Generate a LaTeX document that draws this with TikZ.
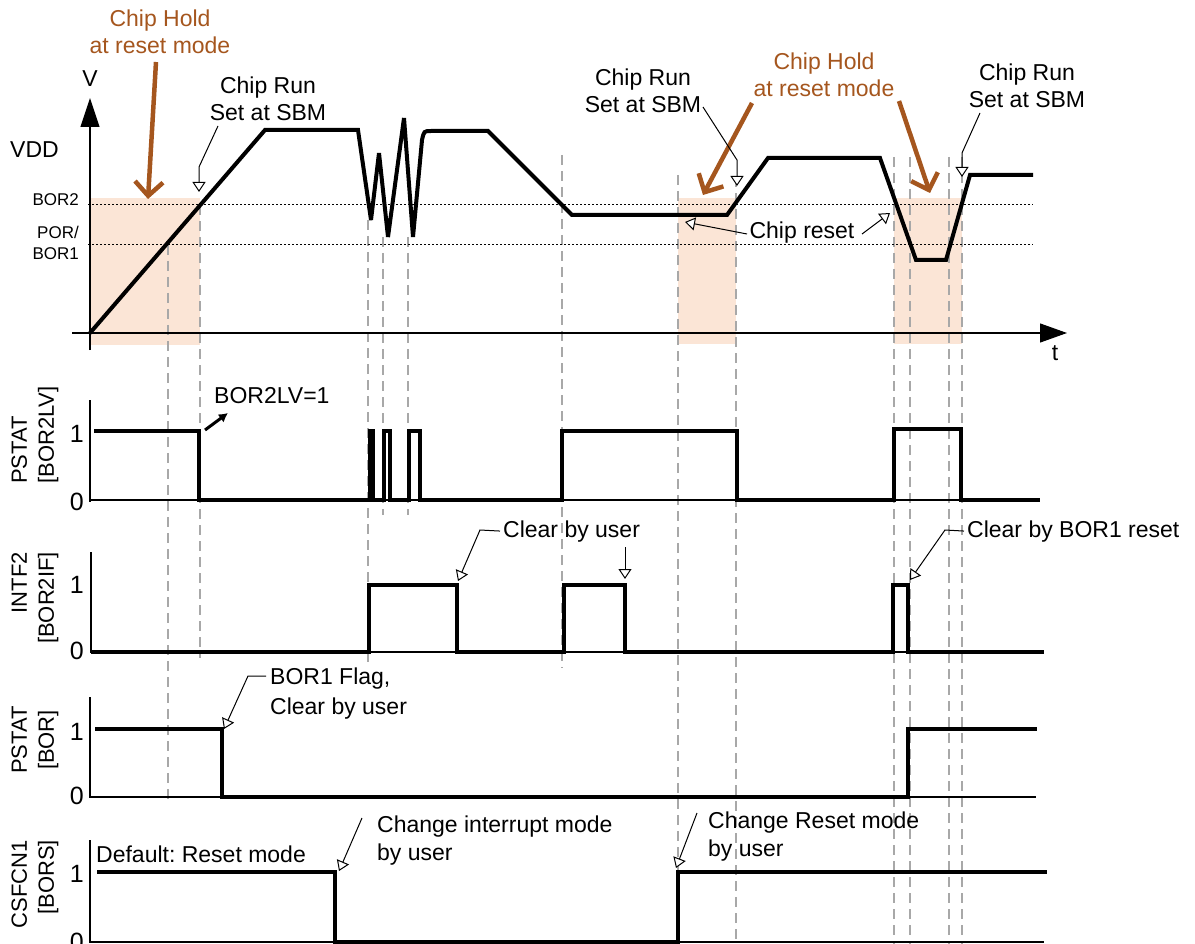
\documentclass[tikz,border=0pt]{standalone}
\usepackage{fontspec}
\setmainfont{Liberation Sans}
\usetikzlibrary{arrows.meta}
\definecolor{holdfill}{HTML}{FBE5D6}
\definecolor{brownc}{HTML}{A5561E}
\definecolor{dashg}{HTML}{A8A8A8}
\frenchspacing
\begin{document}
\begin{tikzpicture}[x=1pt,y=-1pt,
  sig/.style={line width=4pt, line join=miter, miter limit=2.5},
  ax/.style={line width=1.1pt},
  guide/.style={dashg, line width=1.3pt, dash pattern=on 10pt off 6pt},
  lvl/.style={line width=1pt, dash pattern=on 2pt off 2pt},
  call/.style={line width=1pt, -{Triangle[open,length=10pt,width=13pt,fill=white]}},
  hold/.style={brownc, line width=4.5pt, -{Straight Barb[length=14pt,width=28pt]}},
  lab/.style={inner sep=0pt, font=\fontsize{23}{27.5}\selectfont},
  small/.style={inner sep=0pt, font=\fontsize{17}{21}\selectfont},
  lvlab/.style={inner sep=0pt, font=\fontsize{25}{30}\selectfont},
  side/.style={inner sep=0pt, font=\fontsize{22}{27}\selectfont, rotate=90},
]
\useasboundingbox (0,0) rectangle (1195,944);

% shaded hold regions
\fill[holdfill] (90,198) rectangle (200,345);
\fill[holdfill] (678,198) rectangle (736,344);
\fill[holdfill] (894,198) rectangle (962,344);

% guide lines
\draw[guide] (168,245) -- (168,803);
\draw[guide] (200,205) -- (200,658);
\draw[guide] (368,220) -- (368,663);
\draw[guide] (383,237) -- (383,515);
\draw[guide] (408,237) -- (408,515);
\draw[guide] (562,155) -- (562,668);
\draw[guide] (678,175) -- (678,944);
\draw[guide] (736,177) -- (736,944);
\draw[guide] (894,157) -- (894,944);
\draw[guide] (910,157) -- (910,944);
\draw[guide] (949,157) -- (949,944);
\draw[guide] (962,157) -- (962,944);

% level lines
\draw[lvl] (88,205) -- (1033,205);
\draw[lvl] (88,245) -- (1033,245);

% top axes
\draw[ax, -{Triangle[length=29pt,width=19pt]}] (90,350) -- (90,98);
\draw[ax, -{Triangle[length=27pt,width=19pt]}] (72,333) -- (1067,333);

% VDD signal
\draw[sig] (90,333) -- (265,130) -- (358,130) -- (371,220) -- (379,153) -- (388,237)
  -- (404,118) -- (413,237) -- (422,140) .. controls (424,131) .. (431,131) -- (488,131)
  -- (572,215) -- (727,215) -- (768,158) -- (880,158) -- (916,260) -- (946,260)
  -- (970,175) -- (1033,175);

% panel axes and baselines
\draw[ax] (90,400) -- (90,502);
\draw[ax] (90,500) -- (1040,500);
\draw[ax] (91,552) -- (91,653);
\draw[ax] (91,652) -- (1044,652);
\draw[ax] (90,697) -- (90,798);
\draw[ax] (90,797) -- (1036,797);
\draw[ax] (90,840) -- (90,943);
\draw[ax] (90,942) -- (1044,942);

% PSTAT[BOR2LV]
\draw[sig] (94,431) -- (199,431) -- (199,500) -- (370,500) -- (370,431) -- (373,431)
  -- (373,500) -- (384,500) -- (384,431) -- (390,431) -- (390,500) -- (409,500)
  -- (409,431) -- (420,431) -- (420,500) -- (562,500) -- (562,431) -- (737,431)
  -- (737,500) -- (894,500) -- (894,429) -- (961,429) -- (961,500) -- (1040,500);
% INTF2[BOR2IF]
\draw[sig] (91,652) -- (369,652) -- (369,585) -- (457,585) -- (457,652) -- (564,652)
  -- (564,585) -- (625,585) -- (625,652) -- (893,652) -- (893,585) -- (908,585)
  -- (908,652) -- (1044,652);
% PSTAT[BOR]
\draw[sig] (95,729) -- (222,729) -- (222,797) -- (908,797) -- (908,729) -- (1037,729);
% CSFCN1[BORS]
\draw[sig] (97,872) -- (335,872) -- (335,942) -- (678,942) -- (678,872) -- (1047,872);

% top labels
\node[lab, text=brownc, align=center] (hold1) at (160,32) {Chip Hold\\at reset mode};
\node[lab, text=brownc, align=center] (hold2) at (824,75) {Chip Hold\\at reset mode};
\node[lab, align=center] (run1) at (268,99) {Chip Run\\Set at SBM};
\node[lab, align=center] (run2) at (643,91) {Chip Run\\Set at SBM};
\node[lab, align=center] (run3) at (1027,86) {Chip Run\\Set at SBM};
\node[lab, anchor=base] (creset) at (802,239) {Chip reset};
\node[lab, anchor=base] (vlab) at (90,87) {V};
\node[lab, anchor=base west] (vdd) at (10,158) {VDD};
\node[lab, anchor=base] (tlab) at (1055,360) {t};
\node[small, anchor=base east] (bor2) at (79,206) {BOR2};
\node[small, align=right, anchor=east] (por) at (79,243.4) {POR/\\BOR1};

% side labels
\node[side, align=left] (s1) at (35,435) {PSTAT\\{}[BOR2LV]};
\node[side, align=right] (s2) at (35,598) {INTF2\\{}[BOR2IF]};
\node[side, align=center] (s3) at (35,740) {PSTAT\\{}[BOR]};
\node[side, align=right] (s4) at (35,884) {CSFCN1\\{}[BORS]};

% level labels
\node[lvlab, anchor=base east] (a1) at (84,442) {1};
\node[lvlab, anchor=base east] (a0) at (84,510) {0};
\node[lvlab, anchor=base east] (b1) at (84,593) {1};
\node[lvlab, anchor=base east] (b0) at (84,659) {0};
\node[lvlab, anchor=base east] (c1) at (84,740) {1};
\node[lvlab, anchor=base east] (c0) at (84,804) {0};
\node[lvlab, anchor=base east] (d1) at (84,882) {1};
\node[lvlab, anchor=base east] (d0) at (84,950) {0};

% lower labels
\node[lab, anchor=base west] (borlv) at (214,403) {BOR2LV=1};
\node[lab, anchor=base west] (clr1) at (503,537) {Clear by user};
\node[lab, anchor=base west] (clr2) at (967,537) {Clear by BOR1 reset};
\node[lab, align=left, anchor=west, font=\fontsize{23}{30}\selectfont] (flag) at (270,694) {BOR1 Flag,\\Clear by user};
\node[lab, anchor=base west] (deflt) at (96,862) {Default: Reset mode};
\node[lab, align=left, anchor=west] (chint) at (377,840.5) {Change interrupt mode\\by user};
\node[lab, align=left, anchor=west] (chrst) at (708,836.5) {Change Reset mode\\by user};

% coordinates for callouts
\coordinate (h1s) at (156,62);   \coordinate (h1t) at (148,199);
\coordinate (h2s) at (752,103);  \coordinate (h2t) at (703,195);
\coordinate (h3s) at (899,101);  \coordinate (h3t) at (930,193);
\coordinate (r1s) at (218,126);  \coordinate (r1k) at (199,167);  \coordinate (r1t) at (199,192);
\coordinate (r2s) at (703,107);  \coordinate (r2k) at (737,160);  \coordinate (r2t) at (737,186);
\coordinate (r3s) at (980,113);  \coordinate (r3k) at (962,153);  \coordinate (r3t) at (962,177);
\coordinate (cr1s) at (747,234); \coordinate (cr1t) at (685,222);
\coordinate (cr2s) at (862,234); \coordinate (cr2t) at (890,213);
\coordinate (blvS) at (205,430); \coordinate (blvE) at (228,413);
\coordinate (k1) at (480,530);   \coordinate (t1) at (458,581);
\coordinate (u2s) at (625,547);  \coordinate (t2) at (625,579);
\coordinate (k3) at (945,530);   \coordinate (t3) at (910,580);
\coordinate (k4) at (248,676);   \coordinate (t4) at (224,729);
\coordinate (i5s) at (362,818);  \coordinate (t5) at (339,871);
\coordinate (i6s) at (697,813);  \coordinate (t6) at (676,868);

% brown hold arrows
\draw[hold] (h1s) -- (h1t);
\draw[hold] (h2s) -- (h2t);
\draw[hold] (h3s) -- (h3t);

% callouts
\draw[call] (r1s) -- (r1k) -- (r1t);
\draw[call] (r2s) -- (r2k) -- (r2t);
\draw[call] (r3s) -- (r3k) -- (r3t);
\draw[call] (cr1s) -- (cr1t);
\draw[call] (cr2s) -- (cr2t);
\draw[line width=3pt, -{Latex[length=9pt,width=10pt]}] (blvS) -- (blvE);
\draw[call] ([xshift=-3pt]clr1.west) -- (k1) -- (t1);
\draw[call] (u2s) -- (t2);
\draw[call] ([xshift=-3pt]clr2.west) -- (k3) -- (t3);
\draw[call] (266,676) -- (k4) -- (t4);
\draw[call] (i5s) -- (t5);
\draw[call] (i6s) -- (t6);
\end{tikzpicture}
\end{document}
